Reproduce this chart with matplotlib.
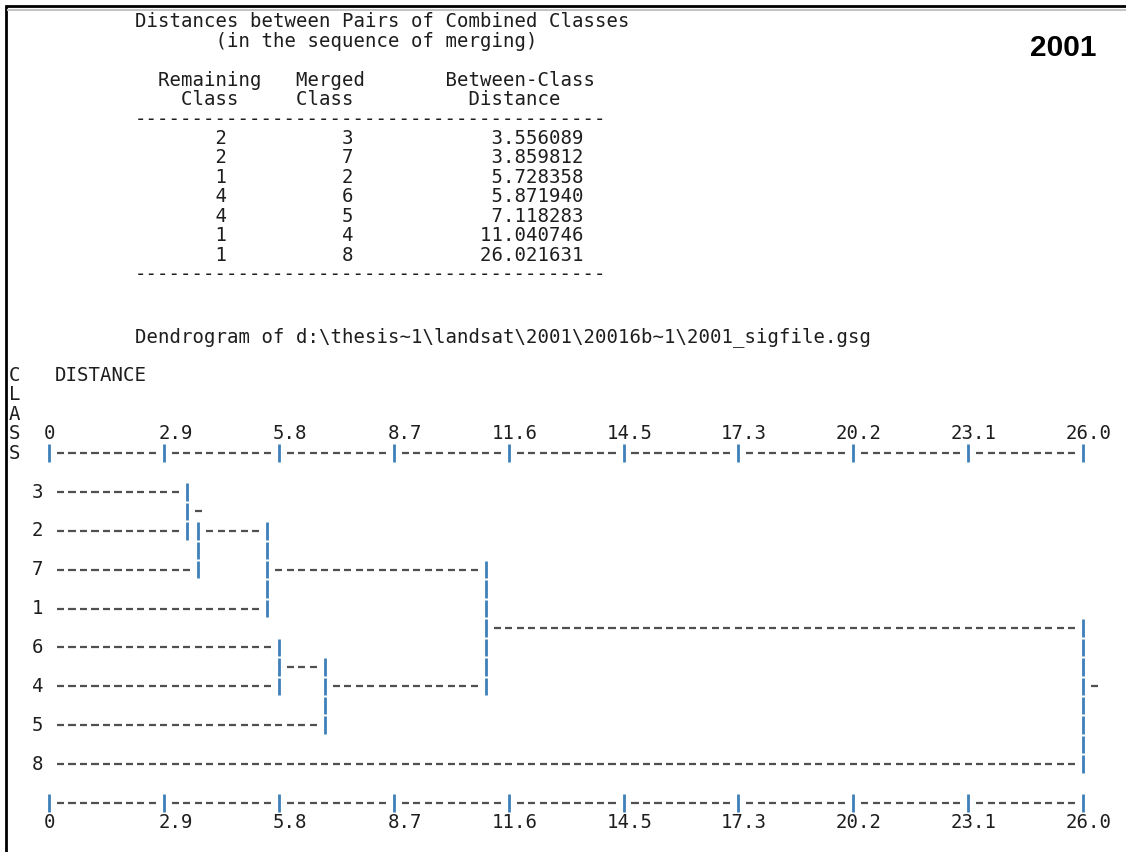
import math
import matplotlib
matplotlib.use("Agg")
import matplotlib.pyplot as plt

# merge sequence from the cluster run
remaining = [2, 2, 1, 4, 4, 1, 1]
merged = [3, 7, 2, 6, 5, 4, 8]
distance = [3.556089, 3.859812, 5.728358, 5.871940, 7.118283, 11.040746, 26.021631]

leaf_order = [3, 2, 7, 1, 6, 4, 5, 8]
tick_labels = ["0", "2.9", "5.8", "8.7", "11.6", "14.5", "17.3", "20.2", "23.1", "26.0"]
year = "2001"
sigfile = r"d:\thesis~1\landsat\2001\20016b~1\2001_sigfile.gsg"

W, H, DPI = 1126, 852, 100
NCOL = 90             # width of the distance scale in characters
X0, CW = 49, 11.49    # pixel of column 0, width of one character
Y0, LH = 492, 19.43   # pixel of the first class row, line height

MONO = "DejaVu Sans Mono"
FS = 13.7
INK = "#1e1e1e"
DASH = "#505050"
BAR = "#3f80b8"

fig = plt.figure(figsize=(W / DPI, H / DPI), dpi=DPI)
ax = fig.add_axes([0, 0, 1, 1])
ax.set_xlim(-X0 / CW, (W - X0) / CW)
ax.set_ylim((H - Y0) / LH, -Y0 / LH)
ax.axis("off")


def px(x, y):
    # pixel position -> axes fraction
    return x / W, 1 - y / H


def put(col, line, s, **kw):
    ax.text(col - 0.5, line, s, ha="left", va="center", family=MONO,
            fontsize=FS, color=INK, **kw)


# window frame
ax.plot(*zip(px(6, 852), px(6, 6), px(1126, 6)), transform=ax.transAxes,
        color="black", lw=2, solid_joinstyle="miter")
ax.plot(*zip(px(8, 9.5), px(1126, 9.5)), transform=ax.transAxes,
        color="#c4c4c4", lw=1.5)

# merge table
top = -24.19
rule = "-" * 41
table = [
    "Distances between Pairs of Combined Classes",
    "       (in the sequence of merging)",
    "",
    "  Remaining   Merged       Between-Class",
    "    Class     Class          Distance",
    rule,
]
for r, m, d in zip(remaining, merged, distance):
    table.append(" " * 7 + str(r) + " " * 10 + str(m) + f"{d:>20.6f}")
table.append(rule)
for n, s in enumerate(table):
    put(8, top + n, s)

put(8, -8, "Dendrogram of " + sigfile)

# axis caption
for n, ch in enumerate("CLASS"):
    put(-3, -6 + n, ch)
put(1, -6, "DISTANCE")

# character grid of the dendrogram
grid = {}


def hrun(line, c0, c1):
    for c in range(c0, c1 + 1):
        grid[(line, c)] = "-"


def vrun(col, l0, l1):
    for l in range(l0, l1 + 1):
        grid[(l, col)] = "|"


dmax = max(distance)


def to_col(d):
    return int(math.floor(d / dmax * NCOL + 1e-9))


# each cluster keeps (line, column where its branch starts)
state = {c: (2 * i, 0) for i, c in enumerate(leaf_order)}
for a, b, d in zip(remaining, merged, distance):
    col = to_col(d)
    (la, ca), (lb, cb) = state[a], state[b]
    vrun(col, min(la, lb), max(la, lb))
    for l, c in ((la, ca), (lb, cb)):
        if c + 1 < col:
            hrun(l, c + 1, col - 1)
        else:
            grid[(l, c + 1)] = "-"
    state[a] = ((la + lb) // 2, col)
    del state[b]
(root_line, root_col), = state.values()
grid[(root_line, root_col + 1)] = "-"

# scale rulers above and below
ruler_lines = (-2, 2 * len(leaf_order))
for line in ruler_lines:
    for c in range(NCOL + 1):
        grid[(line, c)] = "|" if c % 10 == 0 else "-"

dashes = [k for k, ch in grid.items() if ch == "-"]
bars = [k for k, ch in grid.items() if ch == "|"]
ax.hlines([l for l, c in dashes], [c - 0.31 for l, c in dashes],
          [c + 0.31 for l, c in dashes], color=DASH, lw=1.6)
ax.vlines([c for l, c in bars], [l - 0.45 for l, c in bars],
          [l + 0.45 for l, c in bars], color=BAR, lw=2)

# class labels
for i, cls in enumerate(leaf_order):
    put(-1, 2 * i, str(cls))

# scale labels
for k, lab in enumerate(tick_labels):
    c = k * 10 - (1 if len(lab) > 3 else 0)
    put(c, ruler_lines[0] - 1, lab)
    put(c, ruler_lines[1] + 1, lab)

fig.text(1063 / W, 1 - 48 / H, year, ha="center", va="center",
         family="Liberation Sans", fontweight="bold", fontsize=21.5, color="black")

fig.savefig("out.png", dpi=DPI, facecolor="white")
